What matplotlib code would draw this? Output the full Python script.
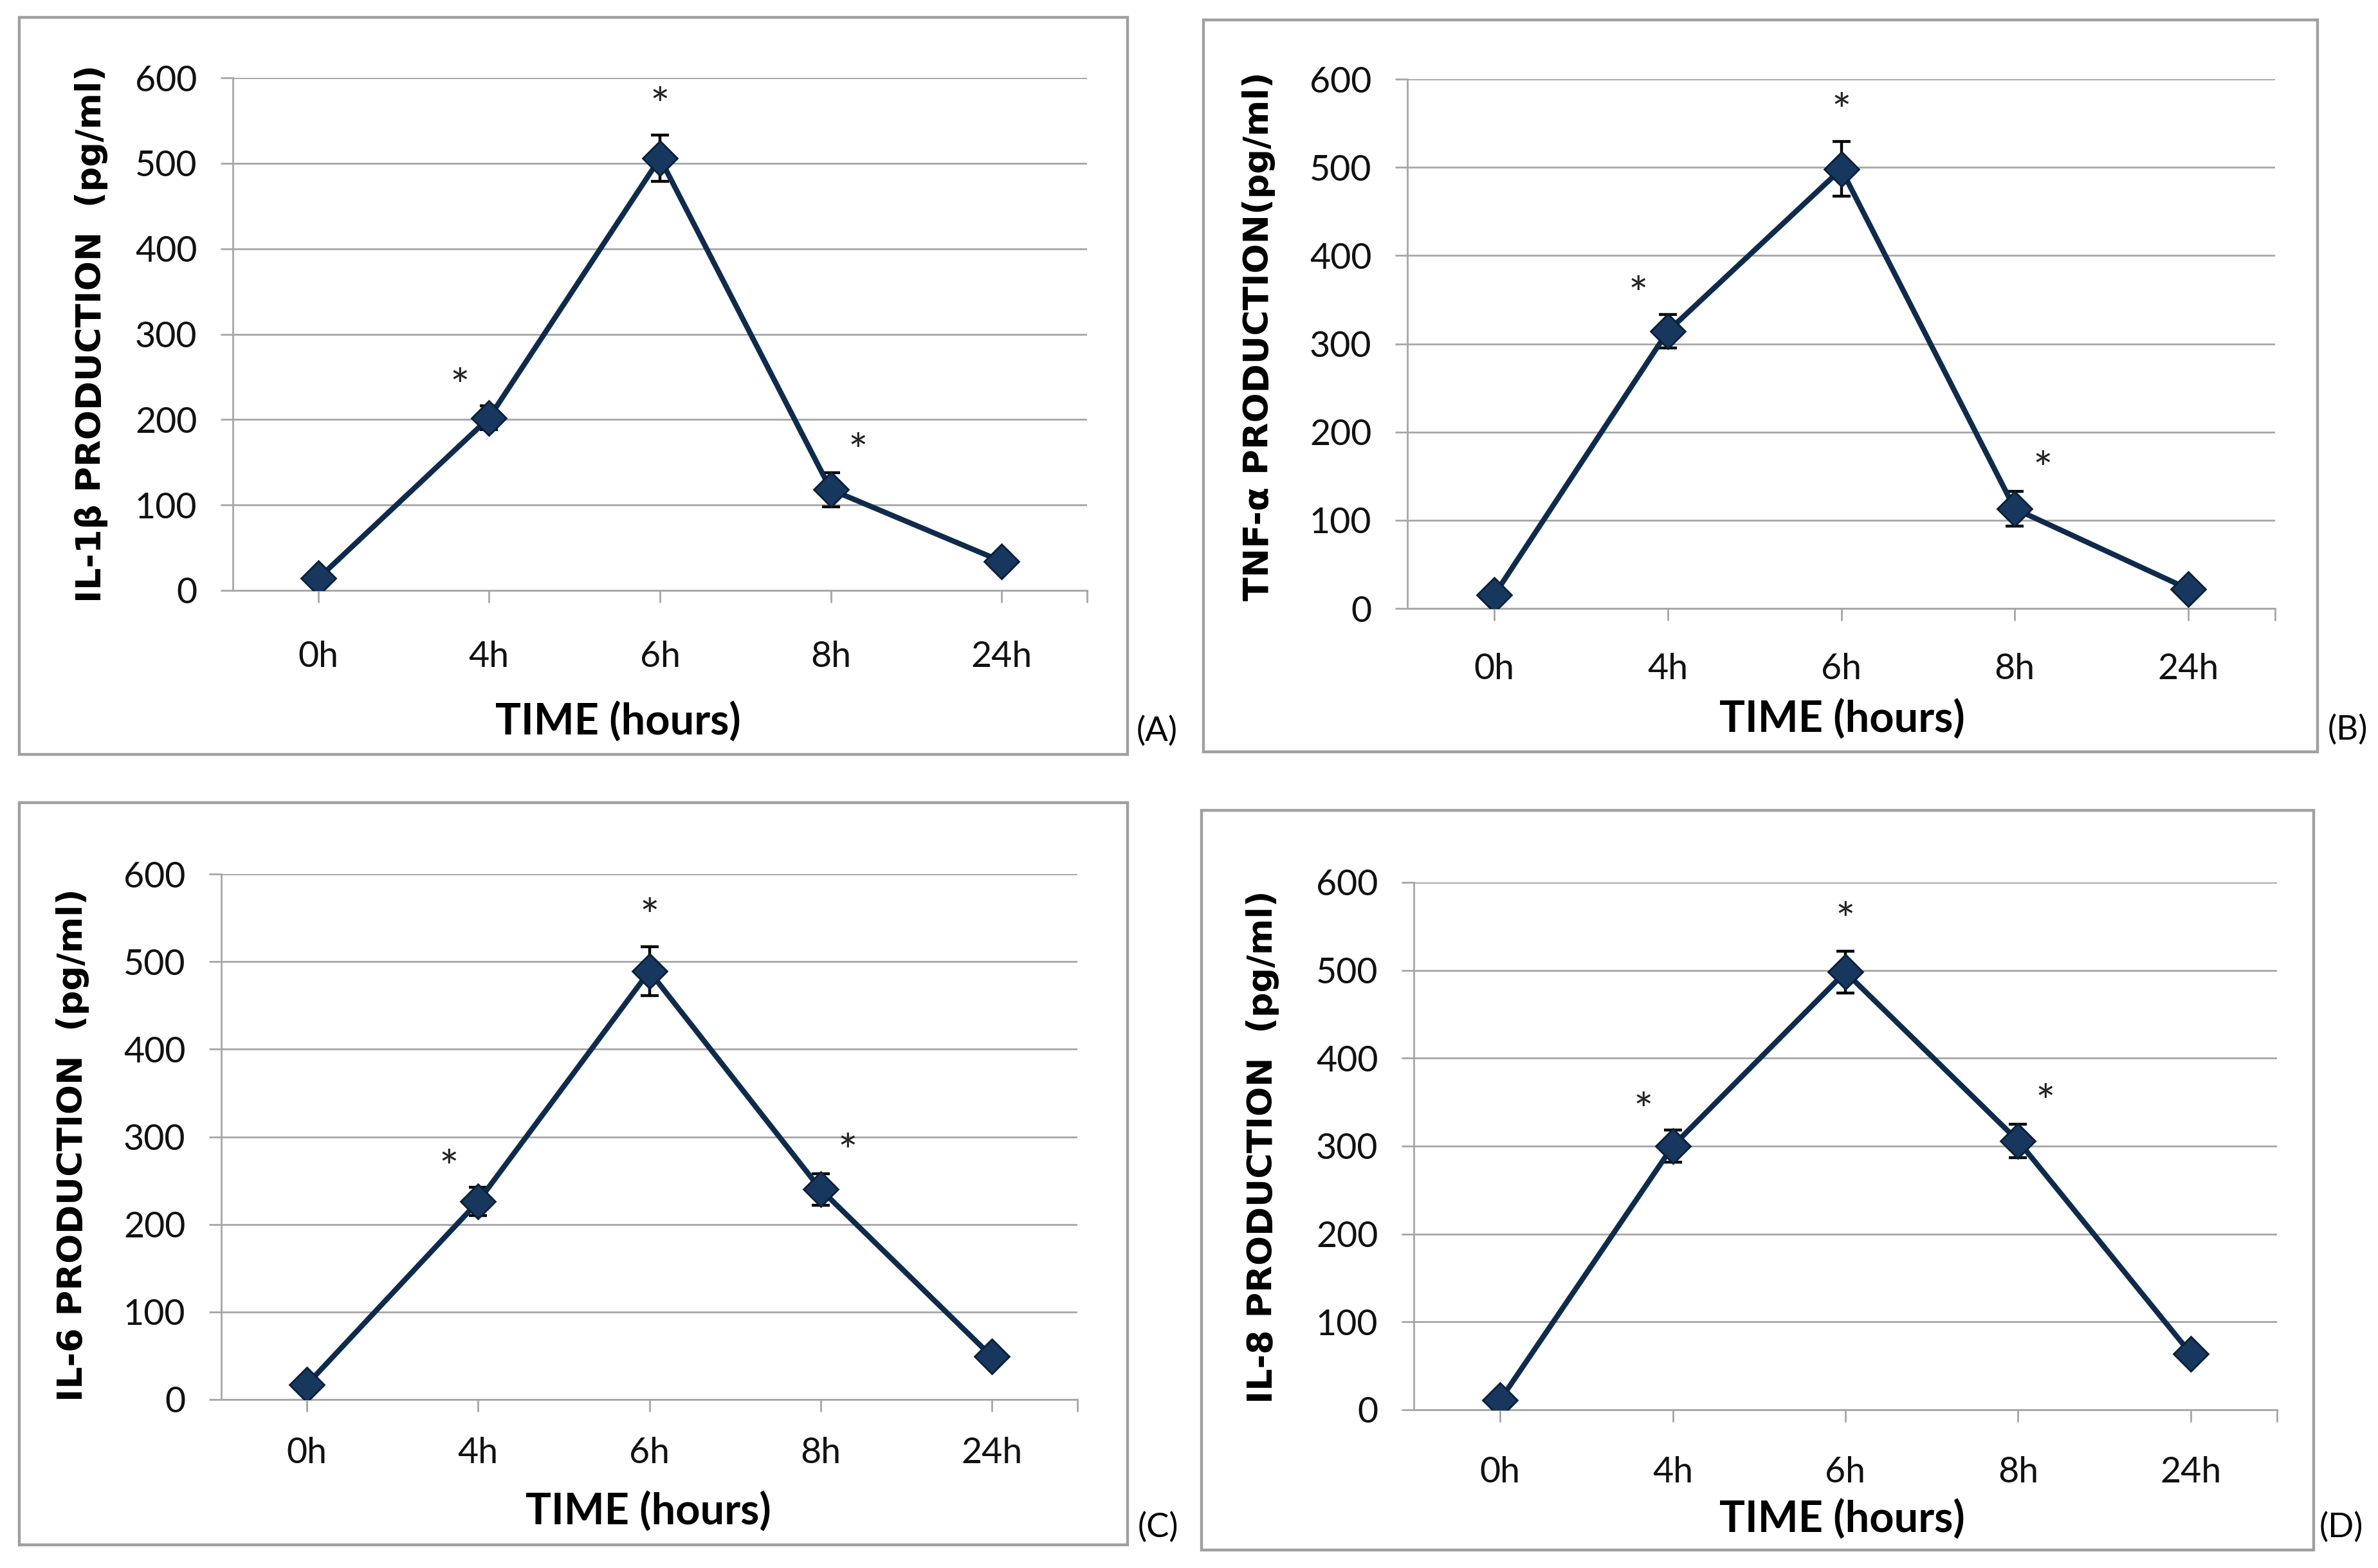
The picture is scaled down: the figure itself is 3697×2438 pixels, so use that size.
import matplotlib
matplotlib.use('Agg')
import matplotlib.pyplot as plt
from matplotlib.patches import Rectangle
import numpy as np

# data
times = ['0h', '4h', '6h', '8h', '24h']

il1b_mean = [14, 202, 506, 118, 34]
il1b_err = [4, 14, 27, 20, 5]

tnfa_mean = [15, 314, 498, 113, 22]
tnfa_err = [4, 19, 31, 20, 8]

il6_mean = [17, 226, 489, 240, 49]
il6_err = [4, 16, 28, 18, 6]

il8_mean = [11, 300, 498, 306, 64]
il8_err = [4, 18, 24, 19, 8]

# which points carry a significance star
starred = [False, True, True, True, False]

ylabels = ['IL-1\u03b2 PRODUCTION  (pg/ml)', 'TNF-\u03b1 PRODUCTION(pg/ml)',
           'IL-6 PRODUCTION  (pg/ml)', 'IL-8 PRODUCTION  (pg/ml)']
tags = ['(A)', '(B)', '(C)', '(D)']

W, H = 3697, 2438
DPI = 200
fig = plt.figure(figsize=(W/DPI, H/DPI), dpi=DPI)

# pixel layout: axes box, frame box, ylabel pos, xlabel pos, tag pos, xtick pad
layout = [
	((362, 121, 1690, 918), (30, 27, 1753, 1173), (142, 519), (961, 1123), (1799, 1137), 21),
	((2188, 123, 3537, 946), (1871, 31, 3603, 1169), (1957, 523), (2864, 1119), (3650, 1135), 18),
	((344, 1359, 1675, 2176), (30, 1248, 1753, 2402), (113, 1780), (1008, 2351), (1800, 2375), 14),
	((2198, 1372, 3540, 2192), (1868, 1260, 3597, 2410), (1963, 1783), (2864, 2363), (3640, 2375), 19),
]

means = [il1b_mean, tnfa_mean, il6_mean, il8_mean]
errs = [il1b_err, tnfa_err, il6_err, il8_err]

line_col = '#0f2b4c'
grid_col = '#a6a6a6'
tick_font = 'Lato'

def fx(x):
	return x / W

def fy(y):
	return 1 - y / H

for i in range(4):
	(l, t, r, b), (fl, ft, fr, fb), ylp, xlp, tgp, xpad = layout[i]

	fig.patches.append(Rectangle((fx(fl), fy(fb)), fx(fr - fl), (fb - ft) / H,
			transform=fig.transFigure, fill=False, edgecolor='#a0a0a0', lw=1.6))

	ax = fig.add_axes([fx(l), fy(b), fx(r - l), (b - t) / H])
	x = np.arange(len(times))
	m = np.array(means[i])
	e = np.array(errs[i])

	ax.errorbar(x, m, yerr=e, fmt='none', ecolor='black', elinewidth=1.6,
			capsize=5, capthick=1.6, zorder=3)
	ax.plot(x, m, color=line_col, lw=3.0, marker='D', markersize=14,
			markerfacecolor='#17375e', markeredgecolor='#0a1f38', zorder=4)

	for xi, mi, ei, s in zip(x, m, e, starred):
		if not s:
			continue
		if xi == 1:
			dx, dy = -0.17, 20
		elif xi == 2:
			dx, dy = 0.0, 32
		else:
			dx, dy = 0.16, 22
		ax.text(xi + dx, mi + ei + dy, '*', ha='center', va='center',
				fontsize=26, family=tick_font, color='#222222')

	ax.set_xlim(-0.5, 4.5)
	ax.set_ylim(0, 600)
	ax.set_yticks(np.arange(0, 601, 100))
	ax.set_xticks(x)
	ax.set_xticks([4.5], minor=True)
	ax.set_xticklabels(times)
	ax.yaxis.grid(True, color=grid_col, lw=1.0)
	ax.set_axisbelow(True)

	for side in ['top', 'right']:
		ax.spines[side].set_visible(False)
	for side in ['left', 'bottom']:
		ax.spines[side].set_color(grid_col)
		ax.spines[side].set_linewidth(1.0)

	ax.tick_params(axis='y', which='both', direction='out', length=7, width=1.0,
			color=grid_col, pad=13, labelsize=20)
	ax.tick_params(axis='x', which='both', direction='out', length=7, width=1.0,
			color=grid_col, pad=xpad, labelsize=20)
	for lab in ax.get_xticklabels() + ax.get_yticklabels():
		lab.set_family(tick_font)
		lab.set_color('#111111')

	fig.text(fx(ylp[0]), fy(ylp[1]), ylabels[i], rotation=90, ha='center', va='center',
			fontsize=19.5, fontweight='bold', family='DejaVu Sans')
	fig.text(fx(xlp[0]), fy(xlp[1]), 'TIME (hours)', ha='center', va='center',
			fontsize=24, fontweight='bold', family=tick_font)
	fig.text(fx(tgp[0]), fy(tgp[1]), tags[i], ha='center', va='center',
			fontsize=19, family=tick_font)

fig.savefig('out.png', dpi=DPI, facecolor='white')
